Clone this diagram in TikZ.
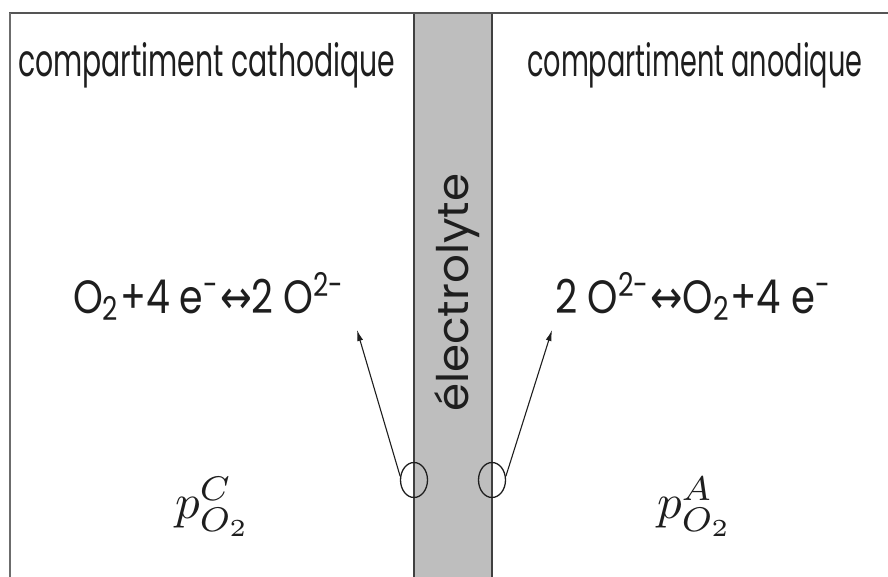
\documentclass[tikz,border=0pt]{standalone}
\usepackage{fontspec}
\setmainfont{Poppins}
\newfontfamily\arrfont{DejaVu Sans}
\usetikzlibrary{shapes.geometric,arrows.meta}
\definecolor{elgray}{HTML}{BEBEBE}
\definecolor{frame}{HTML}{555555}
\definecolor{ink}{HTML}{1E1E1E}
\tikzset{
  txt/.style={inner sep=0pt, text=ink},
  ring/.style={draw=ink, ellipse, line width=1.3pt, minimum width=27pt, minimum height=35pt, inner sep=0pt},
  link/.style={draw=ink, line width=1.1pt, -{Latex[length=11pt,width=6pt]}}
}
\begin{document}
\begin{tikzpicture}[x=1pt,y=-1pt]
\useasboundingbox (0,0) rectangle (888,577);
% electrolyte band
\fill[elgray] (414,13) rectangle (492,577);
\draw[black!75, line width=1.6pt] (414,13) -- (414,577);
\draw[black!75, line width=1.6pt] (492,13) -- (492,577);
% frame
\draw[frame, line width=2.5pt] (9,13) -- (888,13);
\draw[gray!85!black, line width=2.5pt] (10,13) -- (10,577);
% titles
\node[txt, anchor=base west] (tc) at (18,77) {\resizebox{377pt}{34pt}{compartiment cathodique}};
\node[txt, anchor=base west] (ta) at (527,77) {\resizebox{335pt}{34pt}{compartiment anodique}};
% electrolyte label
\node[txt, rotate=90, anchor=base west] (el) at (468,412) {\resizebox{238pt}{34pt}{électrolyte}};
% equations
\node[txt, anchor=base west] (eqc) at (73,313) {\resizebox{272pt}{41pt}{O\textsubscript{2}+4 e\textsuperscript{-}{\arrfont ↔}2 O\textsuperscript{2-}}};
\node[txt, anchor=base west] (eqa) at (555,313) {\resizebox{277pt}{41pt}{2 O\textsuperscript{2-}{\arrfont ↔}O\textsubscript{2}+4 e\textsuperscript{-}}};
% pressures
\node[txt] (pc) at (213,507) {\resizebox{76pt}{!}{$p^C_{O_2}$}};
\node[txt] (pa) at (695,507) {\resizebox{76pt}{!}{$p^A_{O_2}$}};
% interfaces
\node[ring] (lc) at (414,480) {};
\node[ring] (rc) at (492,480) {};
\coordinate (tipc) at (357,330);
\coordinate (tipa) at (552,330);
\draw[link] (lc.165) -- (tipc);
\draw[link] (rc.15) -- (tipa);
\end{tikzpicture}
\end{document}
